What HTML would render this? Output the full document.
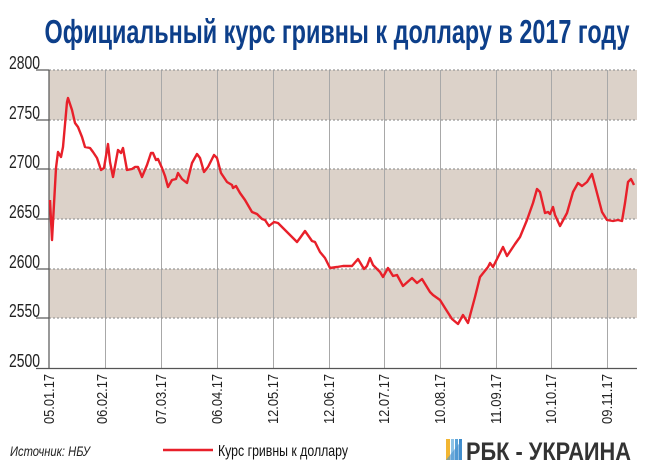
<!DOCTYPE html>
<html><head><meta charset="utf-8"><style>
html,body{margin:0;padding:0;background:#fff;}
svg{display:block;}
text{font-family:"Liberation Sans",sans-serif;}
</style></head><body>
<svg width="650" height="474" viewBox="0 0 650 474" xmlns="http://www.w3.org/2000/svg">
<text x="337" y="43" text-anchor="middle" font-size="33" font-weight="bold" fill="#0d3f8a" textLength="585" lengthAdjust="spacingAndGlyphs">Официальный курс гривны к доллару в 2017 году</text>
<rect x="49" y="70" width="588" height="50" fill="#dcd2c9"/>
<rect x="49" y="169" width="588" height="50" fill="#dcd2c9"/>
<rect x="49" y="269" width="588" height="49" fill="#dcd2c9"/>
<g stroke="#a8a8a8" stroke-width="1">
<line x1="105.5" y1="70" x2="105.5" y2="368"/>
<line x1="161.5" y1="70" x2="161.5" y2="368"/>
<line x1="217.5" y1="70" x2="217.5" y2="368"/>
<line x1="273.5" y1="70" x2="273.5" y2="368"/>
<line x1="329.5" y1="70" x2="329.5" y2="368"/>
<line x1="384.5" y1="70" x2="384.5" y2="368"/>
<line x1="440.5" y1="70" x2="440.5" y2="368"/>
<line x1="496.5" y1="70" x2="496.5" y2="368"/>
<line x1="551.5" y1="70" x2="551.5" y2="368"/>
<line x1="607.5" y1="70" x2="607.5" y2="368"/>
</g>
<g stroke="#999" stroke-width="1.2" stroke-dasharray="2,2">
<line x1="49" y1="70" x2="637" y2="70"/>
<line x1="49" y1="120" x2="637" y2="120"/>
<line x1="49" y1="169" x2="637" y2="169"/>
<line x1="49" y1="219" x2="637" y2="219"/>
<line x1="49" y1="269" x2="637" y2="269"/>
<line x1="49" y1="318" x2="637" y2="318"/>
</g>
<g stroke="#555" stroke-width="1.2">
<line x1="49" y1="70" x2="49" y2="368"/>
<line x1="36" y1="368.5" x2="637" y2="368.5"/>
<line x1="36" y1="70" x2="49" y2="70"/>
<line x1="36" y1="120" x2="49" y2="120"/>
<line x1="36" y1="169" x2="49" y2="169"/>
<line x1="36" y1="219" x2="49" y2="219"/>
<line x1="36" y1="269" x2="49" y2="269"/>
<line x1="36" y1="318" x2="49" y2="318"/>
</g>
<g font-size="18" fill="#222">
<text x="9" y="69" textLength="31" lengthAdjust="spacingAndGlyphs">2800</text>
<text x="9" y="119" textLength="31" lengthAdjust="spacingAndGlyphs">2750</text>
<text x="9" y="168" textLength="31" lengthAdjust="spacingAndGlyphs">2700</text>
<text x="9" y="218" textLength="31" lengthAdjust="spacingAndGlyphs">2650</text>
<text x="9" y="268" textLength="31" lengthAdjust="spacingAndGlyphs">2600</text>
<text x="9" y="317" textLength="31" lengthAdjust="spacingAndGlyphs">2550</text>
<text x="9" y="367" textLength="31" lengthAdjust="spacingAndGlyphs">2500</text>
</g>
<g font-size="15" fill="#222" text-anchor="end">
<text transform="translate(54,374) rotate(-90)" textLength="50" lengthAdjust="spacingAndGlyphs">05.01.17</text>
<text transform="translate(107,374) rotate(-90)" textLength="50" lengthAdjust="spacingAndGlyphs">06.02.17</text>
<text transform="translate(166,374) rotate(-90)" textLength="50" lengthAdjust="spacingAndGlyphs">07.03.17</text>
<text transform="translate(222,374) rotate(-90)" textLength="50" lengthAdjust="spacingAndGlyphs">06.04.17</text>
<text transform="translate(278,374) rotate(-90)" textLength="50" lengthAdjust="spacingAndGlyphs">12.05.17</text>
<text transform="translate(334,374) rotate(-90)" textLength="50" lengthAdjust="spacingAndGlyphs">12.06.17</text>
<text transform="translate(389,374) rotate(-90)" textLength="50" lengthAdjust="spacingAndGlyphs">12.07.17</text>
<text transform="translate(445,374) rotate(-90)" textLength="50" lengthAdjust="spacingAndGlyphs">10.08.17</text>
<text transform="translate(501,374) rotate(-90)" textLength="50" lengthAdjust="spacingAndGlyphs">11.09.17</text>
<text transform="translate(556,374) rotate(-90)" textLength="50" lengthAdjust="spacingAndGlyphs">10.10.17</text>
<text transform="translate(612,374) rotate(-90)" textLength="50" lengthAdjust="spacingAndGlyphs">09.11.17</text>
</g>
<polyline fill="none" stroke="#e8202a" stroke-width="2.4" stroke-linejoin="round" points="50,200 52,240 56,168 58,152 61,157 63,147 67,102 68,98 72,110 75,123 78,127 82,137 85,147 90,148 93,152 97,158 101,170 104,168 108,144 110,162 113,177 118,150 121,153 123,148 127,170 132,169 135,167 138,167 142,177 147,165 151,153 153,153 156,160 158,159 162,168 165,176 168,187 172,180 176,179 178,173 182,179 187,183 192,163 197,154 200,158 204,172 208,167 214,155 217,158 221,173 227,182 232,185 233,188 236,186 240,193 245,200 252,212 257,214 262,219 265,220 269,226 274,222 278,223 287,232 297,242 300,238 305,231 312,241 315,242 320,252 325,258 330,268 337,267 343,266 352,266 358,259 364,269 367,266 370,258 373,265 380,272 383,277 388,268 393,276 397,275 403,286 412,278 417,283 422,279 430,292 433,295 440,300 445,308 452,319 458,324 463,315 468,323 475,297 480,277 488,267 490,263 493,267 503,247 507,256 515,244 520,237 527,220 533,203 537,189 540,192 545,213 548,212 550,214 553,207 555,215 560,226 567,213 573,192 578,183 582,186 587,182 592,174 597,193 602,212 607,220 613,221 618,220 622,221 625,203 628,182 631,179 634,185"/>
<text x="10" y="456" font-size="14" font-style="italic" fill="#222" textLength="80" lengthAdjust="spacingAndGlyphs">Источник: НБУ</text>
<line x1="163" y1="450" x2="213" y2="450" stroke="#e8202a" stroke-width="2.5"/>
<text x="218" y="456" font-size="16" fill="#111" textLength="130" lengthAdjust="spacingAndGlyphs">Курс гривны к доллару</text>
<g>
<rect x="446" y="439" width="4" height="21" fill="#f2b632"/>
<rect x="451" y="439" width="3" height="21" fill="#8ec3e6"/>
<rect x="455" y="439" width="3" height="21" fill="#5aa3d8"/>
<rect x="459" y="439" width="3" height="21" fill="#3a8acb"/>
<polygon points="446,460 462,440 462,460" fill="#4a93d1" opacity="0.6"/>
</g>
<text x="466" y="460" font-size="25" font-weight="bold" fill="#333" textLength="165" lengthAdjust="spacingAndGlyphs">РБК - УКРАИНА</text>
</svg>
</body></html>
